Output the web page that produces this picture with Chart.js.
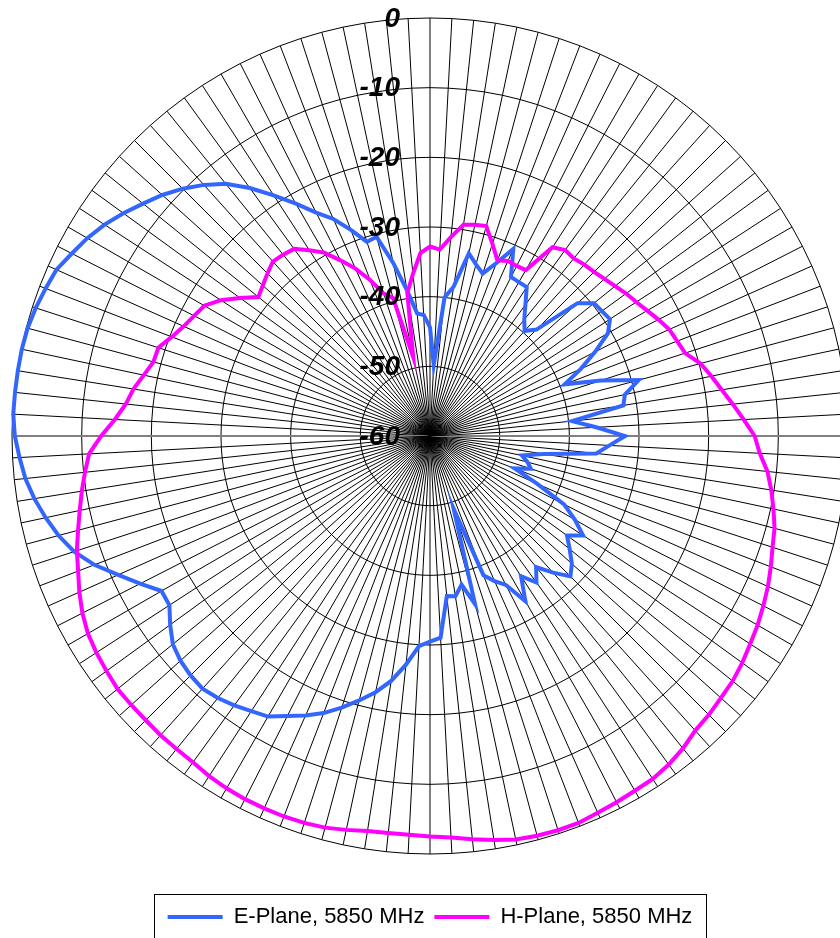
<!DOCTYPE html>
<html>
<head>
<meta charset="utf-8">
<script src="https://cdn.jsdelivr.net/npm/chart.js@4.4.1/dist/chart.umd.min.js"></script>
<style>
    html, body { margin: 0; padding: 0; background: #fff; }
    #wrap { width: 840px; height: 938px; overflow: hidden; }
</style>
</head>
<body>
<div id="wrap"><canvas id="chart-pattern" width="860" height="938"></canvas></div>
<script>
// Antenna radiation pattern, 5850 MHz. One point every 3 degrees, clockwise from the top.
const angles = Array.from({ length: 120 }, (_, i) => String(i * 3));

const ePlane = [
    -44.4, -49.8, -40.0, -38.3, -33.2, -34.5, -35.5, -33.4, -30.6, -34.4,
    -34.5, -34.5, -36.7, -38.5, -39.7, -38.4, -31.5, -29.7, -29.5, -29.2,
    -30.5, -33.4, -36.3, -39.3, -34.2, -29.0, -31.4, -31.9, -39.5, -36.1,
    -32.0, -34.2, -36.0, -43.5, -46.5, -45.5, -44.8, -47.0, -43.2, -38.4,
    -36.0, -33.8, -35.7, -34.2, -32.6, -31.5, -33.6, -35.8, -34.0, -36.0,
    -32.6, -36.0, -37.2, -38.6, -49.0, -35.0, -38.2, -36.7, -36.9, -31.0,
    -30.5, -29.8, -27.0, -24.4, -22.4, -20.7, -19.0, -17.4, -16.1, -14.9,
    -13.5, -12.9, -12.2, -11.6, -11.2, -11.4, -11.8, -12.5, -13.9, -15.4,
    -15.5, -13.3, -11.0, -8.4, -6.3, -4.8, -3.6, -2.5, -1.6, -1.0,
    -0.4, -0.1, -0.1, -0.1, -0.1, -0.2, -0.5, -0.9, -1.3, -2.3,
    -3.2, -4.3, -5.6, -7.0, -8.3, -9.8, -11.5, -13.4, -16.0, -18.8,
    -21.5, -24.0, -25.9, -28.3, -30.7, -30.4, -34.6, -38.8, -42.3, -42.6,
];

const hPlane = [
    -32.8, -33.2, -31.3, -29.3, -29.0, -28.8, -31.0, -33.0, -32.5, -32.6,
    -32.5, -27.7, -27.0, -27.2, -26.9, -26.7, -26.3, -25.8, -25.2, -24.7,
    -24.0, -23.2, -22.4, -22.0, -21.5, -19.8, -18.7, -17.6, -16.3, -14.9,
    -13.4, -12.6, -11.3, -10.4, -9.6, -8.8, -8.3, -7.6, -6.9, -6.3,
    -5.7, -5.2, -4.6, -4.1, -3.8, -3.4, -3.1, -2.3, -1.7, -1.3,
    -1.2, -1.0, -0.8, -0.5, -0.5, -0.6, -0.8, -1.3, -1.8, -2.3,
    -2.5, -2.7, -2.7, -2.6, -2.2, -1.8, -1.6, -1.5, -1.5, -1.5,
    -1.6, -1.8, -2.1, -2.2, -2.2, -2.3, -2.3, -2.3, -2.6, -2.9,
    -3.3, -4.0, -4.9, -5.9, -6.7, -7.7, -8.6, -9.4, -10.2, -11.0,
    -12.8, -14.7, -16.1, -16.9, -18.0, -18.9, -19.0, -20.3, -21.3, -22.0,
    -22.6, -24.2, -26.3, -28.3, -27.7, -27.0, -26.3, -26.5, -26.8, -28.2,
    -29.6, -31.7, -33.7, -36.0, -38.5, -39.5, -48.4, -39.2, -36.6, -33.7,
];

const FONT = '"Liberation Sans", Arial, sans-serif';

// dB labels, right aligned left of the vertical axis (Chart.js centres them on it)
const dbLabels = {
    id: 'dbLabels',
    afterDatasetsDraw(chart) {
        const scale = chart.scales.r;
        const ctx = chart.ctx;
        ctx.save();
        ctx.font = 'italic bold 28px ' + FONT;
        ctx.fillStyle = '#000';
        ctx.textAlign = 'right';
        ctx.textBaseline = 'middle';
        scale.ticks.forEach(t => {
            const y = scale.yCenter - scale.getDistanceFromCenterForValue(t.value);
            ctx.fillText(t.label, scale.xCenter - 30, y + 1);
        });
        ctx.restore();
    },
};

// frame round the legend, open at the bottom edge like the original
const legendFrame = {
    id: 'legendFrame',
    afterDraw(chart) {
        const boxes = chart.legend && chart.legend.legendHitBoxes;
        if (!boxes || !boxes.length) return;
        const first = boxes[0];
        const last = boxes[boxes.length - 1];
        const left = Math.round(first.left - 14) + 0.5;
        const right = Math.round(last.left + last.width + 14) + 0.5;
        const top = Math.round(first.top - 12) + 0.5;
        const ctx = chart.ctx;
        ctx.save();
        ctx.strokeStyle = '#000';
        ctx.lineWidth = 1;
        ctx.strokeRect(left, top, right - left, chart.height - top + 10);
        ctx.restore();
    },
};

const isHorizontal = ctx => ctx.index === 30 || ctx.index === 90;

new Chart(document.getElementById('chart-pattern'), {
    type: 'radar',
    data: {
        labels: angles,
        datasets: [
            {
                label: 'E-Plane, 5850 MHz',
                data: ePlane,
                borderColor: '#3366ff',
                backgroundColor: '#3366ff',
                borderWidth: 4,
                pointRadius: 0,
                fill: false,
                order: 1,
            },
            {
                label: 'H-Plane, 5850 MHz',
                data: hPlane,
                borderColor: '#ff00ff',
                backgroundColor: '#ff00ff',
                borderWidth: 4,
                pointRadius: 0,
                fill: false,
                order: 0,
            },
        ],
    },
    options: {
        responsive: false,
        animation: false,
        layout: { padding: { top: 18, bottom: 0, left: 0, right: 0 } },
        elements: { line: { tension: 0, borderJoinStyle: 'miter' } },
        plugins: {
            tooltip: { enabled: false },
            legend: {
                display: true,
                position: 'bottom',
                title: { display: true, text: '', padding: 15, font: { size: 10 } },
                labels: {
                    color: '#000',
                    usePointStyle: true,
                    pointStyle: 'line',
                    pointStyleWidth: 55,
                    padding: 10,
                    font: { family: FONT, size: 22 },
                    sort: (a, b) => a.datasetIndex - b.datasetIndex,
                },
            },
        },
        scales: {
            r: {
                min: -60,
                max: 0,
                startAngle: 0,
                ticks: { display: false, stepSize: 10 },
                pointLabels: { display: false },
                grid: { color: '#000', lineWidth: 1 },
                angleLines: {
                    color: ctx => isHorizontal(ctx) ? '#808080' : '#000',
                    lineWidth: ctx => isHorizontal(ctx) ? 2 : 1,
                },
            },
        },
    },
    plugins: [dbLabels, legendFrame],
});
</script>
</body>
</html>
